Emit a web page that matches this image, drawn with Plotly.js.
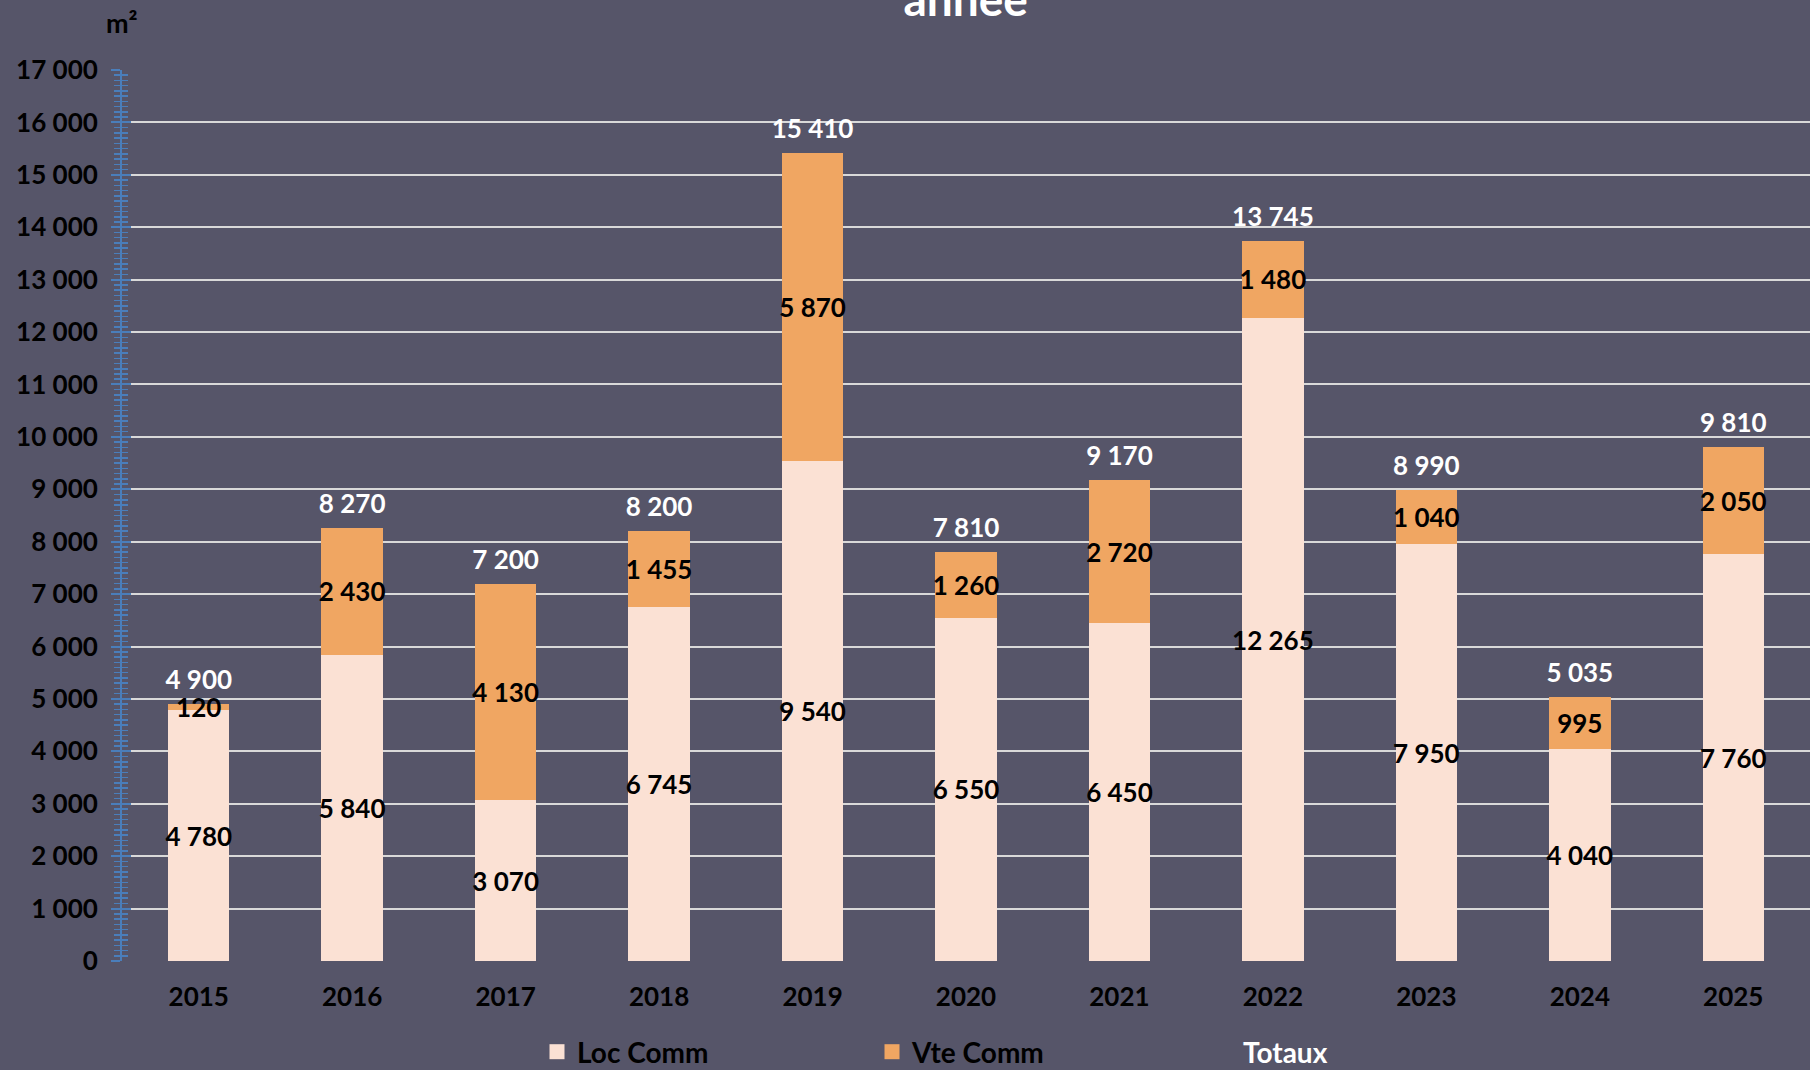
<!DOCTYPE html>
<html>
<head>
<meta charset="utf-8">
<script src="https://cdn.plot.ly/plotly-3.0.1.min.js"></script>
<style>html,body{margin:0;padding:0;background:#565569;}#chart{width:1810px;height:1070px;}</style>
</head>
<body>
<div id="chart"></div>
<script>
const years = ['2015','2016','2017','2018','2019','2020','2021','2022','2023','2024','2025'];
const locComm = [4780, 5840, 3070, 6745, 9540, 6550, 6450, 12265, 7950, 4040, 7760];
const vteComm = [120, 2430, 4130, 1455, 5870, 1260, 2720, 1480, 1040, 995, 2050];
const totaux = [4900, 8270, 7200, 8200, 15410, 7810, 9170, 13745, 8990, 5035, 9810];
const seriesNames = ['Loc Comm', 'Vte Comm', 'Totaux'];

const BG = '#565569';
const FONT = 'Lato, "Open Sans", sans-serif';
const BLUE = '#4a7ebb';
const LOC_COLOR = '#fbe1d4';
const VTE_COLOR = '#f0a662';

const labelFont = {family: FONT, size: 26, color: '#000000', weight: 'bold'};

const traces = [
  {
    type: 'bar', name: seriesNames[0], x: years, y: locComm, showlegend: false,
    marker: {color: LOC_COLOR, line: {width: 0}},
    texttemplate: '%{y:,}', textposition: 'inside', insidetextanchor: 'middle',
    textangle: 0, insidetextfont: labelFont, constraintext: 'none',
    hoverinfo: 'skip'
  },
  {
    type: 'bar', name: seriesNames[1], x: years, y: vteComm, showlegend: false,
    marker: {color: VTE_COLOR, line: {width: 0}},
    texttemplate: '%{y:,}', textposition: 'inside', insidetextanchor: 'middle',
    textangle: 0, insidetextfont: labelFont, constraintext: 'none',
    hoverinfo: 'skip'
  },
  {
    type: 'scatter', mode: 'markers+text', x: years, y: totaux, showlegend: false,
    marker: {size: 12, color: 'rgba(0,0,0,0)'},
    texttemplate: '%{y:,}', textposition: 'top center',
    textfont: {family: FONT, size: 26, color: '#ffffff', weight: 'bold'},
    cliponaxis: false, hoverinfo: 'skip'
  },
  // legend-only entries
  {
    type: 'scatter', mode: 'markers', name: seriesNames[0], x: [years[0]], y: [null],
    marker: {symbol: 'square', size: 15, color: LOC_COLOR}, legend: 'legend', hoverinfo: 'skip'
  },
  {
    type: 'scatter', mode: 'markers', name: seriesNames[1], x: [years[0]], y: [null],
    marker: {symbol: 'square', size: 15, color: VTE_COLOR}, legend: 'legend', hoverinfo: 'skip'
  },
  {
    type: 'scatter', mode: 'markers', name: seriesNames[2], x: [years[0]], y: [null],
    marker: {color: 'rgba(0,0,0,0)', size: 1}, legend: 'legend2', hoverinfo: 'skip'
  },
  {
    type: 'scatter', mode: 'markers', x: [years[0]], y: [null], yaxis: 'y2',
    showlegend: false, hoverinfo: 'skip', marker: {color: 'rgba(0,0,0,0)'}
  }
];

const layout = {
  width: 1810, height: 1070,
  paper_bgcolor: BG, plot_bgcolor: BG,
  separators: ', ',
  barmode: 'stack', bargap: 0.6,
  margin: {l: 122, r: 0, t: 70, b: 109},
  font: {family: FONT, color: '#000000'},
  title: {
    text: 'année', x: 0.5335, xanchor: 'center', xref: 'container',
    y: 1, yanchor: 'middle', yref: 'container',
    font: {family: FONT, size: 46, color: '#ffffff', weight: 'bold'}
  },
  xaxis: {
    type: 'category', range: [-0.5, 10.5], autorange: false,
    showgrid: false, showline: false, zeroline: false,
    ticks: '', tickfont: {family: FONT, size: 26, color: '#000000', weight: 'bold'},
    ticklabelstandoff: 18, fixedrange: true
  },
  yaxis: {
    range: [0, 17000], autorange: false, dtick: 1000, tickformat: ',',
    showgrid: true, gridcolor: '#d9d9d9', gridwidth: 2,
    zeroline: false, showline: true, linecolor: BLUE, linewidth: 2,
    ticks: 'outside', ticklen: 9, tickcolor: BLUE, tickwidth: 2,
    minor: {dtick: 100, ticks: 'outside', ticklen: 6, tickcolor: BLUE, tickwidth: 1.5, showgrid: false},
    tickfont: {family: FONT, size: 26, color: '#000000', weight: 'bold'},
    ticklabelstandoff: 8, fixedrange: true
  },
  yaxis2: {
    overlaying: 'y', side: 'left', range: [0, 17000], autorange: false, dtick: 1000,
    showgrid: false, zeroline: false, showline: false, showticklabels: false,
    ticks: 'inside', ticklen: 9, tickcolor: BLUE, tickwidth: 2,
    minor: {dtick: 100, ticks: 'inside', ticklen: 6, tickcolor: BLUE, tickwidth: 1.5, showgrid: false},
    fixedrange: true
  },
  legend: {
    orientation: 'h', xref: 'container', yref: 'container',
    x: 537 / 1810, xanchor: 'left', y: 18 / 1070, yanchor: 'middle',
    entrywidth: 290, entrywidthmode: 'pixels',
    font: {family: FONT, size: 28, color: '#000000', weight: 'bold'},
    bgcolor: 'rgba(0,0,0,0)', traceorder: 'normal', itemwidth: 30
  },
  legend2: {
    orientation: 'h', xref: 'container', yref: 'container',
    x: 1203 / 1810, xanchor: 'left', y: 18 / 1070, yanchor: 'middle',
    font: {family: FONT, size: 28, color: '#ffffff', weight: 'bold'},
    bgcolor: 'rgba(0,0,0,0)'
  },
  annotations: [{
    text: 'm²', xref: 'paper', yref: 'paper', x: 0, y: (961 - 22) / 891,
    xanchor: 'center', yanchor: 'middle', showarrow: false,
    font: {family: FONT, size: 27, color: '#000000', weight: 'bold'}
  }],
  uniformtext: {mode: 'show', minsize: 26},
  showlegend: true
};

Plotly.newPlot('chart', traces, layout, {displayModeBar: false, staticPlot: true});
</script>
</body>
</html>
